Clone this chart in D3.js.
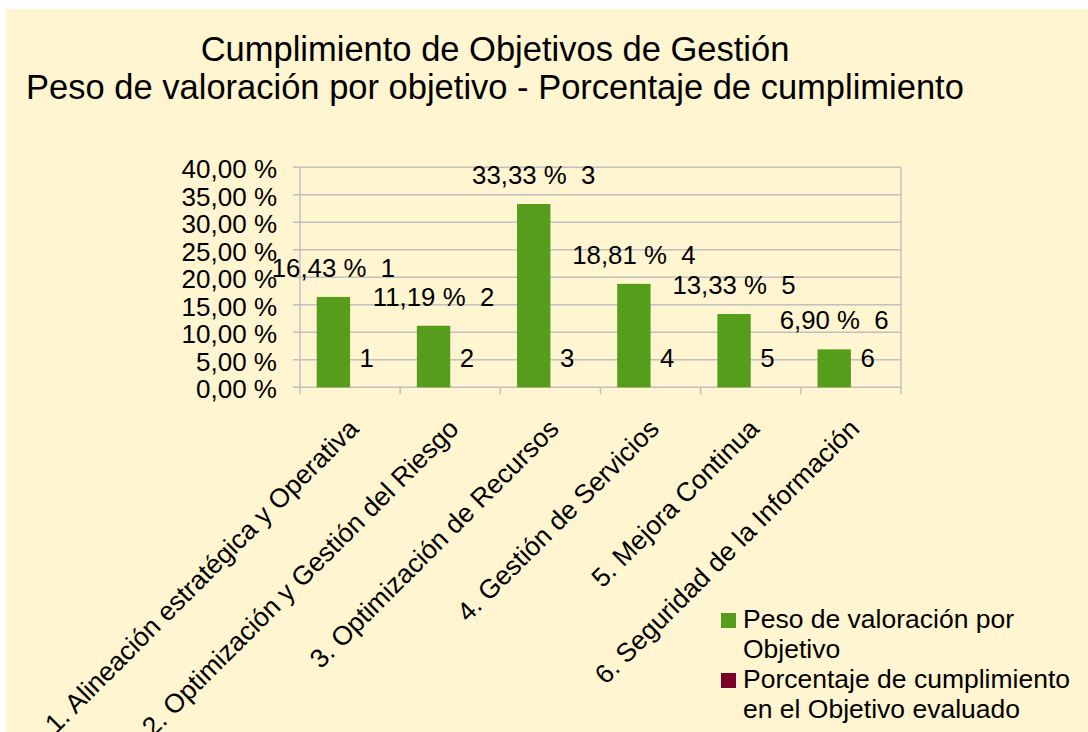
<!DOCTYPE html>
<html>
<head>
<meta charset="utf-8">
<script src="https://d3js.org/d3.v7.min.js"></script>
<style>
  body { margin: 0; background: #fff; }
  text { font-family: "Liberation Sans", Arial, sans-serif; fill: #000; white-space: pre; }
</style>
</head>
<body>
<script>
// chart values
const categories = [
  "1. Alineación estratégica y Operativa",
  "2. Optimización y Gestión del Riesgo",
  "3. Optimización de Recursos",
  "4. Gestión de Servicios",
  "5. Mejora Continua",
  "6. Seguridad de la Información"
];
const peso = [16.43, 11.19, 33.33, 18.81, 13.33, 6.90];
const cumplimiento = [0, 0, 0, 0, 0, 0];
const pesoLabels = ["16,43 %  1", "11,19 %  2", "33,33 %  3", "18,81 %  4", "13,33 %  5", "6,90 %  6"];
const cumplLabels = ["1", "2", "3", "4", "5", "6"];
const yTicks = [0, 5, 10, 15, 20, 25, 30, 35, 40];
const seriesNames = [
  ["Peso de valoración por", "Objetivo"],
  ["Porcentaje de cumplimiento", "en el Objetivo evaluado"]
];
const colors = ["#579d1c", "#7b0029"];

const width = 1088;
const height = 732;

const svg = d3.select("body").append("svg")
  .attr("width", width)
  .attr("height", height);

svg.append("rect")
  .attr("x", 6).attr("y", 9)
  .attr("width", width - 6).attr("height", height - 9)
  .attr("fill", "#fff5d1");

// title
const title = svg.append("text")
  .attr("text-anchor", "middle")
  .style("font-size", "34.5px");
title.append("tspan").attr("x", 495).attr("y", 61).text("Cumplimiento de Objetivos de Gestión");
title.append("tspan").attr("x", 495).attr("y", 99).text("Peso de valoración por objetivo - Porcentaje de cumplimiento");

const plotL = 300, plotR = 901, plotT = 167.3, plotB = 387.3;

const y = d3.scaleLinear().domain([0, 40]).range([plotB, plotT]);
const x0 = d3.scaleBand().domain(d3.range(categories.length)).range([plotL, plotR]);
const x1 = d3.scaleBand().domain([0, 1]).range([0, x0.bandwidth()]).paddingOuter(0.5);

const grid = "#c0c0c0";

// gridlines
svg.append("g").selectAll("line")
  .data(yTicks)
  .enter().append("line")
  .attr("x1", plotL - 7).attr("x2", plotR)
  .attr("y1", d => y(d)).attr("y2", d => y(d))
  .attr("stroke", grid).attr("stroke-width", 1.5);

// axis lines and x ticks
svg.append("g").selectAll("line")
  .data(d3.range(categories.length + 1))
  .enter().append("line")
  .attr("x1", d => d < categories.length ? x0(d) : plotR)
  .attr("x2", d => d < categories.length ? x0(d) : plotR)
  .attr("y1", d => (d === 0 || d === categories.length) ? plotT : plotB)
  .attr("y2", plotB + 7)
  .attr("stroke", grid).attr("stroke-width", 1.5);

// y tick labels
svg.append("g").selectAll("text")
  .data(yTicks)
  .enter().append("text")
  .attr("x", 277)
  .attr("y", d => y(d))
  .attr("dy", "0.42em")
  .attr("text-anchor", "end")
  .style("font-size", "26px")
  .text(d => d3.format(".2f")(d).replace(".", ",") + " %");

// bars
const series = [peso, cumplimiento];
series.forEach((vals, s) => {
  svg.append("g").selectAll("rect")
    .data(vals)
    .enter().append("rect")
    .attr("x", (d, i) => x0(i) + x1(s))
    .attr("width", x1.bandwidth())
    .attr("y", d => y(d))
    .attr("height", d => y(0) - y(d))
    .attr("fill", colors[s]);
});

// data labels
const labelSets = [pesoLabels, cumplLabels];
series.forEach((vals, s) => {
  svg.append("g").selectAll("text")
    .data(vals)
    .enter().append("text")
    .attr("x", (d, i) => x0(i) + x1(s) + x1.bandwidth() / 2)
    .attr("y", d => y(d) - 20)
    .attr("text-anchor", "middle")
    .style("font-size", "25.8px")
    .text((d, i) => labelSets[s][i]);
});

// rotated category labels
svg.append("g").selectAll("text")
  .data(categories)
  .enter().append("text")
  .attr("transform", (d, i) => `translate(${x0(i) + x0.bandwidth() / 2 + 10},${plotB + 43}) rotate(-45)`)
  .attr("text-anchor", "end")
  .style("font-size", "26.5px")
  .text(d => d);

// legend
const legend = svg.append("g");
seriesNames.forEach((lines, s) => {
  const ly = 628 + s * 60;
  legend.append("rect")
    .attr("x", 721).attr("y", ly - 15)
    .attr("width", 15).attr("height", 15)
    .attr("fill", colors[s]);
  const t = legend.append("text").style("font-size", "26.5px");
  lines.forEach((line, k) => {
    t.append("tspan").attr("x", 743).attr("y", ly + k * 30).text(line);
  });
});
</script>
</body>
</html>
